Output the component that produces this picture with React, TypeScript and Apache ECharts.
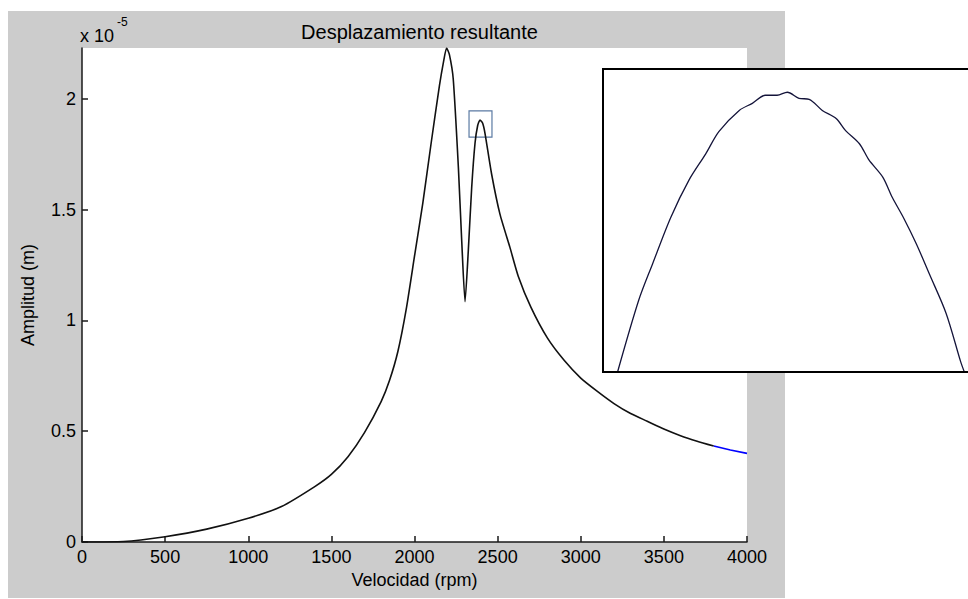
import React, { useEffect, useRef } from "react";
import * as echarts from "echarts";

// Main curve (amplitude in units of 1e-5 m)
const rpm = [0, 250, 500, 750, 1000, 1200, 1400, 1500, 1600, 1700, 1800, 1850, 1900, 1950, 2000, 2050, 2100, 2150, 2175, 2193, 2210, 2233, 2264, 2284, 2304, 2324, 2344, 2364, 2380, 2394, 2410, 2424, 2464, 2514, 2574, 2624, 2700, 2800, 2900, 3000, 3100, 3200, 3300, 3400, 3500, 3600, 3700, 3800];
const amp = [0, 0.002, 0.024, 0.058, 0.107, 0.16, 0.25, 0.305, 0.385, 0.495, 0.635, 0.73, 0.86, 1.05, 1.29, 1.53, 1.8, 2.06, 2.17, 2.23, 2.2, 2.09, 1.69, 1.36, 1.085, 1.32, 1.6, 1.8, 1.88, 1.905, 1.89, 1.845, 1.66, 1.48, 1.33, 1.2, 1.06, 0.92, 0.82, 0.74, 0.68, 0.625, 0.58, 0.545, 0.51, 0.48, 0.455, 0.433];
// Final segment drawn in blue
const tailRpm = [3800, 3900, 4000];
const tailAmp = [0.433, 0.415, 0.4];

// Zoom box around second peak: [xMin, xMax, yMin, yMax]
const zoomBox = [2328, 2466, 1.828, 1.946];

// Inset (magnified second peak)
const insetRpm = [2372.0, 2374.9, 2376.8, 2379.3, 2381.8, 2384.1, 2385.9, 2388.7, 2390.5, 2392.3, 2393.9, 2395.3, 2396.9, 2398.3, 2400.1, 2402.0, 2403.3, 2405.2, 2406.5, 2408.4, 2409.7, 2411.3, 2413.0, 2414.8, 2417.1, 2419.1, 2419.6];
const insetAmp = [1.88, 1.8871, 1.8907, 1.8953, 1.899, 1.9016, 1.9038, 1.9059, 1.9066, 1.9074, 1.9074, 1.9077, 1.9071, 1.907, 1.9059, 1.9051, 1.9039, 1.9026, 1.901, 1.8993, 1.8973, 1.8952, 1.8927, 1.8897, 1.8858, 1.881, 1.88];

const xTicks = [0, 500, 1000, 1500, 2000, 2500, 3000, 3500, 4000];
const yTicks = [0, 0.5, 1, 1.5, 2];

const FONT = "Liberation Sans, Arial, sans-serif";

export default function App() {
  const ref = useRef<HTMLDivElement>(null);

  useEffect(() => {
    if (!ref.current) return;
    const chart = echarts.init(ref.current, undefined, { renderer: "svg" });
    const axisColor = "#1a1a1a";
    const border = { stroke: "#000", lineWidth: 2 };
    const option: any = {
      animation: false,
      backgroundColor: "transparent",
      textStyle: { fontFamily: FONT },
      title: {
        text: "Desplazamiento resultante",
        left: 414.5,
        top: 17,
        textAlign: "center",
        textStyle: { fontFamily: FONT, fontSize: 20, fontWeight: "normal", color: "#000" },
      },
      grid: [
        { left: 82, top: 48, width: 665, height: 494, show: true, backgroundColor: "#fff", borderWidth: 0 },
        { left: 603, top: 69, width: 365, height: 303, show: true, backgroundColor: "#fff", borderWidth: 0, borderColor: "transparent", z: 10 },
      ],
      xAxis: [
        {
          type: "value",
          gridIndex: 0,
          min: 0,
          max: 4000,
          interval: 500,
          name: "Velocidad (rpm)",
          nameLocation: "middle",
          nameGap: 27,
          nameTextStyle: { fontFamily: FONT, fontSize: 18, color: "#000" },
          axisLine: { show: true, lineStyle: { color: axisColor, width: 1.5 } },
          axisTick: { show: true, inside: true, length: 6, customValues: xTicks, lineStyle: { color: axisColor, width: 1.5 } },
          axisLabel: { fontFamily: FONT, fontSize: 18, color: "#000", margin: 6, customValues: xTicks, formatter: (v: number) => String(v) },
          splitLine: { show: false },
        },
        { type: "value", gridIndex: 1, min: 2370, max: 2420.1, show: false },
      ],
      yAxis: [
        {
          type: "value",
          gridIndex: 0,
          min: 0,
          max: 2.23,
          name: "Amplitud (m)",
          nameLocation: "middle",
          nameGap: 45,
          nameRotate: 90,
          nameTextStyle: { fontFamily: FONT, fontSize: 18, color: "#000" },
          axisLine: { show: true, lineStyle: { color: axisColor, width: 1.5 } },
          axisTick: { show: true, inside: true, length: 6, customValues: yTicks, lineStyle: { color: axisColor, width: 1.5 } },
          axisLabel: { fontFamily: FONT, fontSize: 18, color: "#000", margin: 6, customValues: yTicks, formatter: (v: number) => String(v) },
          splitLine: { show: false },
        },
        { type: "value", gridIndex: 1, min: 1.88, max: 1.91, show: false },
      ],
      series: [
        {
          type: "line",
          xAxisIndex: 0,
          yAxisIndex: 0,
          data: rpm.map((r, i) => [r, amp[i]]),
          showSymbol: false,
          smooth: 0.2,
          lineStyle: { color: "#111", width: 1.6 },
          markArea: {
            silent: true,
            itemStyle: { color: "rgba(0,0,0,0)", borderColor: "#5b7aa3", borderWidth: 1.2 },
            data: [[{ xAxis: zoomBox[0], yAxis: zoomBox[2] }, { xAxis: zoomBox[1], yAxis: zoomBox[3] }]],
          },
        },
        {
          type: "line",
          xAxisIndex: 0,
          yAxisIndex: 0,
          data: tailRpm.map((r, i) => [r, tailAmp[i]]),
          showSymbol: false,
          lineStyle: { color: "#0000ff", width: 1.6 },
        },
        {
          type: "line",
          xAxisIndex: 1,
          yAxisIndex: 1,
          data: insetRpm.map((r, i) => [r, insetAmp[i]]),
          showSymbol: false,
          smooth: 0.3,
          clip: true,
          z: 12,
          lineStyle: { color: "#14143a", width: 1.3 },
        },
      ],
      graphic: [
        { type: "text", left: 80, top: 27, style: { text: "x 10", fontFamily: FONT, fontSize: 18, fill: "#000" } },
        { type: "text", left: 117, top: 16, style: { text: "-5", fontFamily: FONT, fontSize: 12, fill: "#000" } },
        { type: "line", z: 50, silent: true, shape: { x1: 602, y1: 69, x2: 968, y2: 69 }, style: border },
        { type: "line", z: 50, silent: true, shape: { x1: 602, y1: 372, x2: 968, y2: 372 }, style: border },
        { type: "line", z: 50, silent: true, shape: { x1: 603, y1: 68, x2: 603, y2: 373 }, style: border },
      ],
    };
    chart.setOption(option);
    return () => chart.dispose();
  }, []);

  return (
    <div style={{ position: "fixed", left: 0, top: 0, width: 968, height: 599, background: "#fff" }}>
      <div style={{ position: "absolute", left: 8, top: 11, width: 777, height: 587, background: "#cccccc" }} />
      <div ref={ref} style={{ position: "absolute", left: 0, top: 0, width: 968, height: 599 }} />
    </div>
  );
}
